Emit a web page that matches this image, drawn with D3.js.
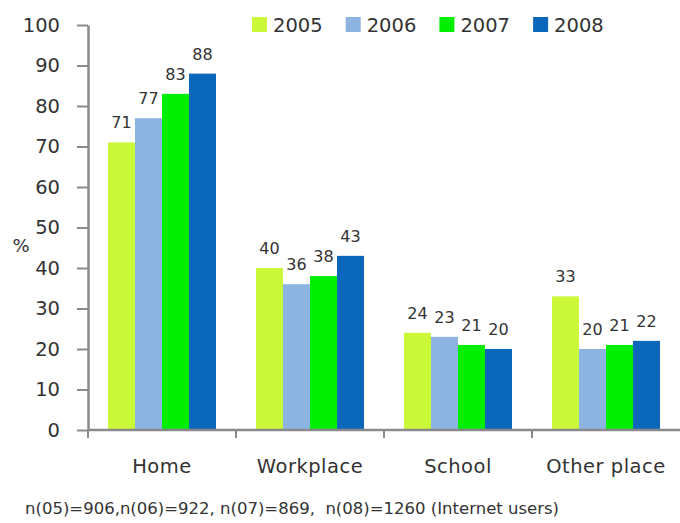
<!DOCTYPE html>
<html>
<head>
<meta charset="utf-8">
<script src="https://cdn.jsdelivr.net/npm/d3@7"></script>
<style>
  html, body { margin: 0; padding: 0; background: #fff; }
  svg { display: block; font-family: "DejaVu Sans", sans-serif; }
</style>
</head>
<body>
<svg id="chart" width="680" height="523"></svg>
<script>
// Where Internet users go online, share of respondents (%)
const categories = ["Home", "Workplace", "School", "Other place"];
const years = ["2005", "2006", "2007", "2008"];
const values2005 = [71, 40, 24, 33];
const values2006 = [77, 36, 23, 20];
const values2007 = [83, 38, 21, 21];
const values2008 = [88, 43, 20, 22];
const yTicks = [0, 10, 20, 30, 40, 50, 60, 70, 80, 90, 100];
const footnote = "n(05)=906,n(06)=922, n(07)=869,  n(08)=1260 (Internet users)";

const seriesValues = [values2005, values2006, values2007, values2008];
const colors = ["#ccf83a", "#8db3e1", "#00ee00", "#0b67ba"];

const svg = d3.select("#chart");
const plotLeft = 88, plotRight = 680, plotTop = 25, plotBottom = 430;

const x0 = d3.scaleBand().domain(categories).range([plotLeft, plotRight]).padding(0);
const x1 = d3.scaleBand().domain(years).range([0, x0.bandwidth()])
  .paddingInner(0).paddingOuter(0.74);
const y = d3.scaleLinear().domain([0, 100]).range([plotBottom, plotTop]);
const color = d3.scaleOrdinal().domain(years).range(colors);

// bars
const groups = svg.append("g").selectAll("g")
  .data(categories)
  .join("g")
  .attr("transform", d => `translate(${x0(d)},0)`);

const rows = (cat, ci) => years.map((yr, si) => ({ cat, yr, v: seriesValues[si][ci] }));

groups.selectAll("rect")
  .data((d, i) => rows(d, i))
  .join("rect")
  .attr("x", d => x1(d.yr))
  .attr("y", d => y(d.v))
  .attr("width", x1.bandwidth())
  .attr("height", d => y(0) - y(d.v))
  .attr("fill", d => color(d.yr));

groups.selectAll("text")
  .data((d, i) => rows(d, i))
  .join("text")
  .attr("x", d => x1(d.yr) + x1.bandwidth() / 2)
  .attr("y", d => y(d.v) - 14)
  .attr("text-anchor", "middle")
  .attr("font-size", 16)
  .attr("fill", "#333")
  .text(d => d.v);

// y axis
const yAxis = svg.append("g")
  .attr("transform", `translate(${plotLeft},0)`)
  .call(d3.axisLeft(y).tickValues(yTicks).tickSize(11).tickPadding(17).tickSizeOuter(0));
yAxis.select(".domain").attr("stroke", "#8a8a8a").attr("stroke-width", 2.5);
yAxis.selectAll(".tick line").attr("stroke", "#8a8a8a").attr("stroke-width", 2);
yAxis.selectAll(".tick text").attr("font-size", 19.5).attr("fill", "#333")
  .attr("font-family", "DejaVu Sans, sans-serif");

svg.append("text")
  .attr("x", 21).attr("y", 252)
  .attr("text-anchor", "middle")
  .attr("font-size", 18).attr("fill", "#333")
  .text("%");

// x axis: baseline, category boundary ticks, labels
const xAxis = svg.append("g");
xAxis.append("line")
  .attr("x1", plotLeft).attr("x2", plotRight)
  .attr("y1", plotBottom).attr("y2", plotBottom)
  .attr("stroke", "#8a8a8a").attr("stroke-width", 2.5);
xAxis.selectAll(".bt")
  .data(categories.map(c => x0(c)))
  .join("line")
  .attr("x1", d => d).attr("x2", d => d)
  .attr("y1", plotBottom).attr("y2", plotBottom + 8)
  .attr("stroke", "#8a8a8a").attr("stroke-width", 2);
xAxis.selectAll(".cl")
  .data(categories)
  .join("text")
  .attr("x", d => x0(d) + x0.bandwidth() / 2)
  .attr("y", 473)
  .attr("text-anchor", "middle")
  .attr("font-size", 19.5).attr("fill", "#333")
  .attr("letter-spacing", 0.5)
  .text(d => d);

// legend
const legend = svg.append("g").selectAll("g")
  .data(years)
  .join("g")
  .attr("transform", (d, i) => `translate(${252 + i * 93.7},17)`);
legend.append("rect")
  .attr("width", 15).attr("height", 15)
  .attr("fill", d => color(d));
legend.append("text")
  .attr("x", 21).attr("y", 14.5)
  .attr("font-size", 19.5).attr("fill", "#333")
  .text(d => d);

// sample sizes
svg.append("text")
  .attr("x", 25).attr("y", 514)
  .attr("font-size", 16.5).attr("fill", "#333")
  .attr("xml:space", "preserve")
  .style("white-space", "pre")
  .text(footnote);
</script>
</body>
</html>
